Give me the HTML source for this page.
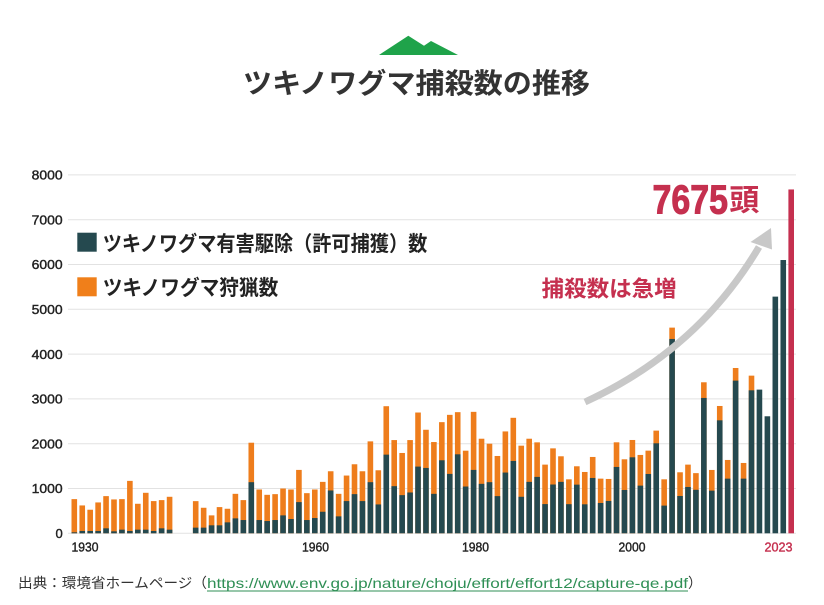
<!DOCTYPE html>
<html lang="ja">
<head>
<meta charset="utf-8">
<style>
  html,body{margin:0;padding:0;background:#fff;}
  body{width:824px;height:605px;overflow:hidden;}
  svg{display:block;}
  text{font-family:"Liberation Sans","Noto Sans CJK JP",sans-serif;}
</style>
</head>
<body>
<svg width="824" height="605" viewBox="0 0 824 605" xmlns="http://www.w3.org/2000/svg">
  <rect width="824" height="605" fill="#fff"/>
  <polygon points="379,55 408.3,35.7 424,45.7 431,41 458,55" fill="#1fa34a"/>
  <text x="243" y="93" font-size="28" font-weight="700" fill="#333" textLength="347" lengthAdjust="spacingAndGlyphs">ツキノワグマ捕殺数の推移</text>
  <g stroke="#e2e2e2" stroke-width="1">
    <line x1="68" y1="174.9" x2="796" y2="174.9"/>
    <line x1="68" y1="219.7" x2="796" y2="219.7"/>
    <line x1="68" y1="264.5" x2="796" y2="264.5"/>
    <line x1="68" y1="309.3" x2="796" y2="309.3"/>
    <line x1="68" y1="354.1" x2="796" y2="354.1"/>
    <line x1="68" y1="398.9" x2="796" y2="398.9"/>
    <line x1="68" y1="443.7" x2="796" y2="443.7"/>
    <line x1="68" y1="488.5" x2="796" y2="488.5"/>
    <line x1="68" y1="533.3" x2="796" y2="533.3"/>
  </g>
  <g font-size="13" fill="#222" text-anchor="end" stroke="#222" stroke-width="0.4">
    <text x="62.7" y="179.6" textLength="31" lengthAdjust="spacingAndGlyphs">8000</text>
    <text x="62.7" y="224.4" textLength="31" lengthAdjust="spacingAndGlyphs">7000</text>
    <text x="62.7" y="269.2" textLength="31" lengthAdjust="spacingAndGlyphs">6000</text>
    <text x="62.7" y="314" textLength="31" lengthAdjust="spacingAndGlyphs">5000</text>
    <text x="62.7" y="358.8" textLength="31" lengthAdjust="spacingAndGlyphs">4000</text>
    <text x="62.7" y="403.6" textLength="31" lengthAdjust="spacingAndGlyphs">3000</text>
    <text x="62.7" y="448.4" textLength="31" lengthAdjust="spacingAndGlyphs">2000</text>
    <text x="62.7" y="493.2" textLength="31" lengthAdjust="spacingAndGlyphs">1000</text>
    <text x="62.7" y="538">0</text>
  </g>
  <g transform="translate(0,533.3) scale(1,-0.0448)">
    <g fill="#ee7d1c">
      <rect x="71.5" y="0" width="5.6" height="763"/>
      <rect x="79.44" y="0" width="5.6" height="622"/>
      <rect x="87.38" y="0" width="5.6" height="526"/>
      <rect x="95.32" y="0" width="5.6" height="689"/>
      <rect x="103.26" y="0" width="5.6" height="830"/>
      <rect x="111.2" y="0" width="5.6" height="756"/>
      <rect x="119.14" y="0" width="5.6" height="763"/>
      <rect x="127.08" y="0" width="5.6" height="1170"/>
      <rect x="135.02" y="0" width="5.6" height="659"/>
      <rect x="142.96" y="0" width="5.6" height="904"/>
      <rect x="150.9" y="0" width="5.6" height="719"/>
      <rect x="158.84" y="0" width="5.6" height="741"/>
      <rect x="166.78" y="0" width="5.6" height="815"/>
      <rect x="192.9" y="0" width="5.6" height="718"/>
      <rect x="200.84" y="0" width="5.6" height="570"/>
      <rect x="208.78" y="0" width="5.6" height="400"/>
      <rect x="216.72" y="0" width="5.6" height="585"/>
      <rect x="224.66" y="0" width="5.6" height="548"/>
      <rect x="232.6" y="0" width="5.6" height="881"/>
      <rect x="240.54" y="0" width="5.6" height="741"/>
      <rect x="248.48" y="0" width="5.6" height="2022"/>
      <rect x="256.42" y="0" width="5.6" height="978"/>
      <rect x="264.36" y="0" width="5.6" height="859"/>
      <rect x="272.3" y="0" width="5.6" height="874"/>
      <rect x="280.24" y="0" width="5.6" height="1000"/>
      <rect x="288.18" y="0" width="5.6" height="978"/>
      <rect x="296.12" y="0" width="5.6" height="1415"/>
      <rect x="304.06" y="0" width="5.6" height="896"/>
      <rect x="312" y="0" width="5.6" height="978"/>
      <rect x="319.94" y="0" width="5.6" height="1148"/>
      <rect x="327.88" y="0" width="5.6" height="1385"/>
      <rect x="335.82" y="0" width="5.6" height="881"/>
      <rect x="343.76" y="0" width="5.6" height="1289"/>
      <rect x="351.7" y="0" width="5.6" height="1541"/>
      <rect x="359.64" y="0" width="5.6" height="1385"/>
      <rect x="367.58" y="0" width="5.6" height="2052"/>
      <rect x="375.52" y="0" width="5.6" height="1407"/>
      <rect x="383.46" y="0" width="5.6" height="2837"/>
      <rect x="391.4" y="0" width="5.6" height="2081"/>
      <rect x="399.34" y="0" width="5.6" height="1793"/>
      <rect x="407.28" y="0" width="5.6" height="2081"/>
      <rect x="415.22" y="0" width="5.6" height="2696"/>
      <rect x="423.16" y="0" width="5.6" height="2311"/>
      <rect x="431.1" y="0" width="5.6" height="2037"/>
      <rect x="439.04" y="0" width="5.6" height="2481"/>
      <rect x="446.98" y="0" width="5.6" height="2644"/>
      <rect x="454.92" y="0" width="5.6" height="2704"/>
      <rect x="462.86" y="0" width="5.6" height="1844"/>
      <rect x="470.8" y="0" width="5.6" height="2711"/>
      <rect x="478.74" y="0" width="5.6" height="2111"/>
      <rect x="486.68" y="0" width="5.6" height="2000"/>
      <rect x="494.62" y="0" width="5.6" height="1726"/>
      <rect x="502.56" y="0" width="5.6" height="2274"/>
      <rect x="510.5" y="0" width="5.6" height="2578"/>
      <rect x="518.44" y="0" width="5.6" height="1956"/>
      <rect x="526.38" y="0" width="5.6" height="2111"/>
      <rect x="534.32" y="0" width="5.6" height="2030"/>
      <rect x="542.26" y="0" width="5.6" height="1533"/>
      <rect x="550.2" y="0" width="5.6" height="1896"/>
      <rect x="558.14" y="0" width="5.6" height="1719"/>
      <rect x="566.08" y="0" width="5.6" height="1205"/>
      <rect x="574.02" y="0" width="5.6" height="1496"/>
      <rect x="581.96" y="0" width="5.6" height="1369"/>
      <rect x="589.9" y="0" width="5.6" height="1704"/>
      <rect x="597.84" y="0" width="5.6" height="1220"/>
      <rect x="605.78" y="0" width="5.6" height="1213"/>
      <rect x="613.72" y="0" width="5.6" height="2031"/>
      <rect x="621.66" y="0" width="5.6" height="1652"/>
      <rect x="629.6" y="0" width="5.6" height="2083"/>
      <rect x="637.54" y="0" width="5.6" height="1749"/>
      <rect x="645.48" y="0" width="5.6" height="1845"/>
      <rect x="653.42" y="0" width="5.6" height="2292"/>
      <rect x="661.36" y="0" width="5.6" height="1205"/>
      <rect x="669.3" y="0" width="5.6" height="4591"/>
      <rect x="677.24" y="0" width="5.6" height="1362"/>
      <rect x="685.18" y="0" width="5.6" height="1533"/>
      <rect x="693.12" y="0" width="5.6" height="1343"/>
      <rect x="701.06" y="0" width="5.6" height="3371"/>
      <rect x="709" y="0" width="5.6" height="1414"/>
      <rect x="716.94" y="0" width="5.6" height="2842"/>
      <rect x="724.88" y="0" width="5.6" height="1637"/>
      <rect x="732.82" y="0" width="5.6" height="3690"/>
      <rect x="740.76" y="0" width="5.6" height="1570"/>
      <rect x="748.7" y="0" width="5.6" height="3519"/>
    </g>
    <g fill="#25494f">
      <rect x="71.5" y="0" width="5.6" height="22"/>
      <rect x="79.44" y="0" width="5.6" height="52"/>
      <rect x="87.38" y="0" width="5.6" height="52"/>
      <rect x="95.32" y="0" width="5.6" height="52"/>
      <rect x="103.26" y="0" width="5.6" height="111"/>
      <rect x="111.2" y="0" width="5.6" height="44"/>
      <rect x="119.14" y="0" width="5.6" height="81"/>
      <rect x="127.08" y="0" width="5.6" height="52"/>
      <rect x="135.02" y="0" width="5.6" height="81"/>
      <rect x="142.96" y="0" width="5.6" height="81"/>
      <rect x="150.9" y="0" width="5.6" height="52"/>
      <rect x="158.84" y="0" width="5.6" height="111"/>
      <rect x="166.78" y="0" width="5.6" height="81"/>
      <rect x="192.9" y="0" width="5.6" height="126"/>
      <rect x="200.84" y="0" width="5.6" height="126"/>
      <rect x="208.78" y="0" width="5.6" height="178"/>
      <rect x="216.72" y="0" width="5.6" height="178"/>
      <rect x="224.66" y="0" width="5.6" height="244"/>
      <rect x="232.6" y="0" width="5.6" height="333"/>
      <rect x="240.54" y="0" width="5.6" height="296"/>
      <rect x="248.48" y="0" width="5.6" height="1141"/>
      <rect x="256.42" y="0" width="5.6" height="296"/>
      <rect x="264.36" y="0" width="5.6" height="274"/>
      <rect x="272.3" y="0" width="5.6" height="296"/>
      <rect x="280.24" y="0" width="5.6" height="400"/>
      <rect x="288.18" y="0" width="5.6" height="319"/>
      <rect x="296.12" y="0" width="5.6" height="696"/>
      <rect x="304.06" y="0" width="5.6" height="296"/>
      <rect x="312" y="0" width="5.6" height="341"/>
      <rect x="319.94" y="0" width="5.6" height="481"/>
      <rect x="327.88" y="0" width="5.6" height="956"/>
      <rect x="335.82" y="0" width="5.6" height="378"/>
      <rect x="343.76" y="0" width="5.6" height="719"/>
      <rect x="351.7" y="0" width="5.6" height="874"/>
      <rect x="359.64" y="0" width="5.6" height="719"/>
      <rect x="367.58" y="0" width="5.6" height="1141"/>
      <rect x="375.52" y="0" width="5.6" height="644"/>
      <rect x="383.46" y="0" width="5.6" height="1756"/>
      <rect x="391.4" y="0" width="5.6" height="1052"/>
      <rect x="399.34" y="0" width="5.6" height="852"/>
      <rect x="407.28" y="0" width="5.6" height="911"/>
      <rect x="415.22" y="0" width="5.6" height="1489"/>
      <rect x="423.16" y="0" width="5.6" height="1459"/>
      <rect x="431.1" y="0" width="5.6" height="881"/>
      <rect x="439.04" y="0" width="5.6" height="1630"/>
      <rect x="446.98" y="0" width="5.6" height="1326"/>
      <rect x="454.92" y="0" width="5.6" height="1763"/>
      <rect x="462.86" y="0" width="5.6" height="1044"/>
      <rect x="470.8" y="0" width="5.6" height="1415"/>
      <rect x="478.74" y="0" width="5.6" height="1104"/>
      <rect x="486.68" y="0" width="5.6" height="1141"/>
      <rect x="494.62" y="0" width="5.6" height="830"/>
      <rect x="502.56" y="0" width="5.6" height="1356"/>
      <rect x="510.5" y="0" width="5.6" height="1615"/>
      <rect x="518.44" y="0" width="5.6" height="815"/>
      <rect x="526.38" y="0" width="5.6" height="1148"/>
      <rect x="534.32" y="0" width="5.6" height="1259"/>
      <rect x="542.26" y="0" width="5.6" height="652"/>
      <rect x="550.2" y="0" width="5.6" height="1089"/>
      <rect x="558.14" y="0" width="5.6" height="1148"/>
      <rect x="566.08" y="0" width="5.6" height="650"/>
      <rect x="574.02" y="0" width="5.6" height="1086"/>
      <rect x="581.96" y="0" width="5.6" height="647"/>
      <rect x="589.9" y="0" width="5.6" height="1235"/>
      <rect x="597.84" y="0" width="5.6" height="677"/>
      <rect x="605.78" y="0" width="5.6" height="722"/>
      <rect x="613.72" y="0" width="5.6" height="1481"/>
      <rect x="621.66" y="0" width="5.6" height="967"/>
      <rect x="629.6" y="0" width="5.6" height="1696"/>
      <rect x="637.54" y="0" width="5.6" height="1064"/>
      <rect x="645.48" y="0" width="5.6" height="1324"/>
      <rect x="653.42" y="0" width="5.6" height="2009"/>
      <rect x="661.36" y="0" width="5.6" height="618"/>
      <rect x="669.3" y="0" width="5.6" height="4338"/>
      <rect x="677.24" y="0" width="5.6" height="833"/>
      <rect x="685.18" y="0" width="5.6" height="1034"/>
      <rect x="693.12" y="0" width="5.6" height="971"/>
      <rect x="701.06" y="0" width="5.6" height="3021"/>
      <rect x="709" y="0" width="5.6" height="952"/>
      <rect x="716.94" y="0" width="5.6" height="2522"/>
      <rect x="724.88" y="0" width="5.6" height="1220"/>
      <rect x="732.82" y="0" width="5.6" height="3408"/>
      <rect x="740.76" y="0" width="5.6" height="1220"/>
      <rect x="748.7" y="0" width="5.6" height="3192"/>
      <rect x="756.64" y="0" width="5.6" height="3207"/>
      <rect x="764.58" y="0" width="5.6" height="2612"/>
      <rect x="772.52" y="0" width="5.6" height="5283"/>
      <rect x="780.46" y="0" width="5.6" height="6100"/>
    </g>
    <rect x="788.4" y="0" width="5.6" height="7675" fill="#c5304f"/>
  </g>
  <g font-size="13" fill="#222" text-anchor="middle" stroke="#222" stroke-width="0.4">
    <text x="85" y="551.7" textLength="27" lengthAdjust="spacingAndGlyphs">1930</text>
    <text x="315.5" y="551.7" textLength="27" lengthAdjust="spacingAndGlyphs">1960</text>
    <text x="475.5" y="551.7" textLength="27" lengthAdjust="spacingAndGlyphs">1980</text>
    <text x="632" y="551.7" textLength="27" lengthAdjust="spacingAndGlyphs">2000</text>
  </g>
  <text x="778.5" y="551.7" font-size="13" fill="#c5304f" stroke="#c5304f" stroke-width="0.4" text-anchor="middle" textLength="28" lengthAdjust="spacingAndGlyphs">2023</text>
  <rect x="77.3" y="232.7" width="19.4" height="19" fill="#25494f"/>
  <text x="102.7" y="251" font-size="21" font-weight="700" fill="#222" textLength="324.6" lengthAdjust="spacingAndGlyphs">ツキノワグマ有害駆除（許可捕獲）数</text>
  <rect x="77.3" y="277.3" width="19.4" height="19" fill="#f07f1a"/>
  <text x="102.7" y="295" font-size="21" font-weight="700" fill="#222" textLength="175.6" lengthAdjust="spacingAndGlyphs">ツキノワグマ狩猟数</text>
  <path d="M585,402 Q698,350 759,247" fill="none" stroke="#c8c8c8" stroke-width="7"/>
  <polygon points="771,228 750.5,242 772,249.5" fill="#c8c8c8"/>
  <text x="652.5" y="213.3" font-size="41" font-weight="700" fill="#c5304f" stroke="#c5304f" stroke-width="1" textLength="75.5" lengthAdjust="spacingAndGlyphs">7675</text>
  <text x="729.3" y="210.5" font-size="30" font-weight="700" fill="#c5304f" textLength="30" lengthAdjust="spacingAndGlyphs">頭</text>
  <text x="541.7" y="296.5" font-size="22" font-weight="700" fill="#c5304f" textLength="135" lengthAdjust="spacingAndGlyphs">捕殺数は急増</text>
  <text x="18" y="588" font-size="14" fill="#333" textLength="189" lengthAdjust="spacingAndGlyphs">出典：環境省ホームページ（</text>
  <text x="207" y="588" font-size="14" fill="#2f8f55" textLength="481" lengthAdjust="spacingAndGlyphs">https://www.env.go.jp/nature/choju/effort/effort12/capture-qe.pdf</text>
  <line x1="207" y1="591" x2="688" y2="591" stroke="#2f8f55" stroke-width="1"/>
  <text x="688" y="588" font-size="14" fill="#333">）</text>
</svg>
</body>
</html>
